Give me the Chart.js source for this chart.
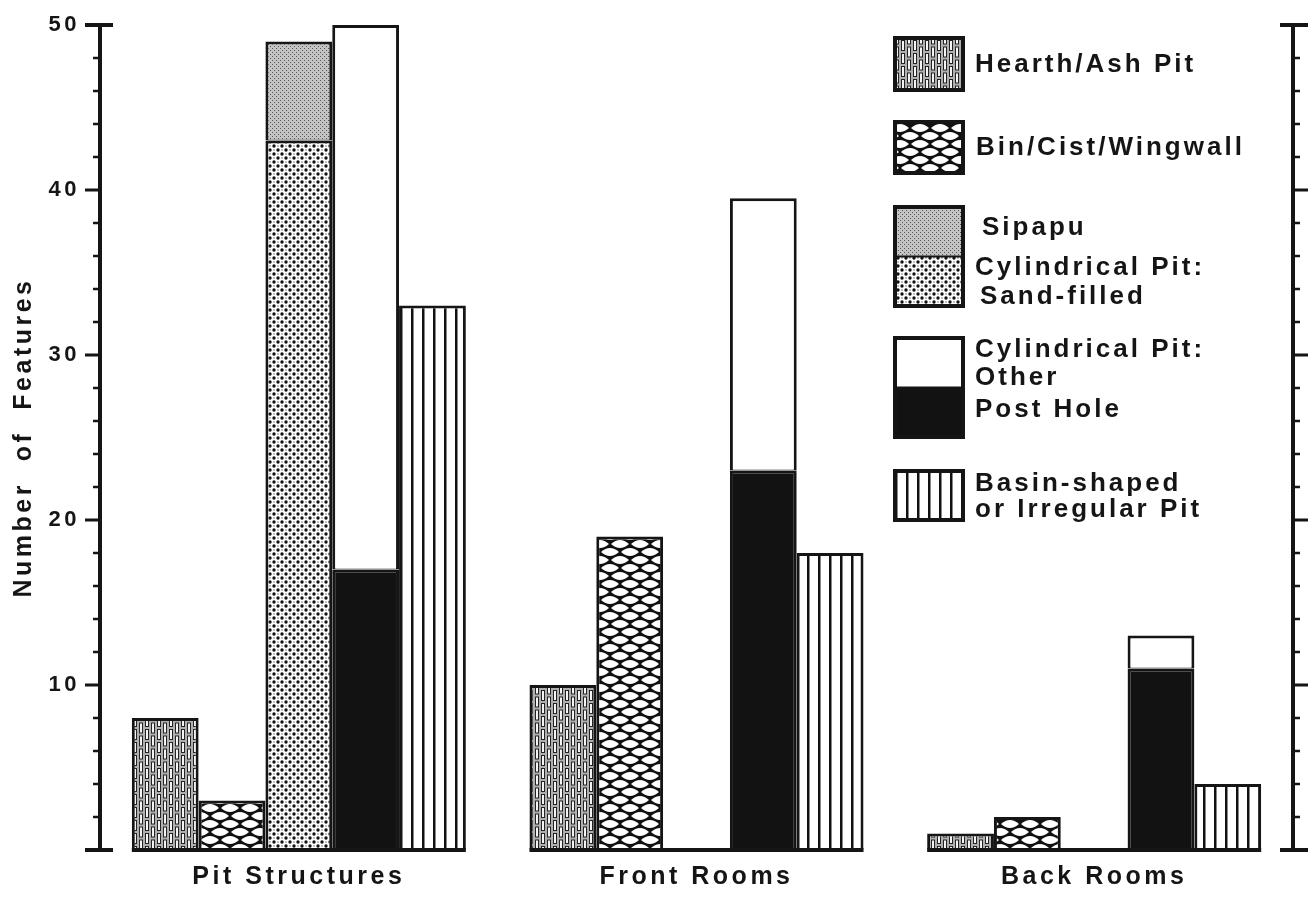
<!DOCTYPE html>
<html>
<head>
<meta charset="utf-8">
<script src="https://cdn.jsdelivr.net/npm/chart.js@4.4.1/dist/chart.umd.min.js"></script>
<style>
  html, body { margin: 0; padding: 0; background: #fff; }
  #wrap { width: 1310px; height: 897px; }
</style>
</head>
<body>
<div id="wrap"><canvas id="chart" width="1310" height="897"></canvas></div>
<script>
const categories = ['Pit Structures', 'Front Rooms', 'Back Rooms'];
const hearth = [8, 10, 1];
const bin = [3, 19, 2];
const sandFilled = [43, 0, 0];
const sipapu = [6, 0, 0];
const postHole = [17, 23, 11];
const cylOther = [33, 16.5, 2];
const basin = [33, 18, 4];
const yTicks = [10, 20, 30, 40, 50];

const FONT = '"Liberation Sans", Arial, Helvetica, sans-serif';
const INK = '#151515';

const canvas = document.getElementById('chart');
const mainCtx = canvas.getContext('2d');

function makePattern(w, h, draw) {
  const c = document.createElement('canvas');
  c.width = w; c.height = h;
  const g = c.getContext('2d');
  draw(g, w, h);
  return mainCtx.createPattern(c, 'repeat');
}

// brick-like slots
const hearthFill = makePattern(12, 26, (g) => {
  g.fillStyle = '#b0b0b0'; g.fillRect(0, 0, 12, 26);
  g.fillStyle = '#f4f4f4'; g.strokeStyle = '#222'; g.lineWidth = 1;
  [[1.5, 1.5], [1.5, 14.5], [7.5, -5], [7.5, 8], [7.5, 21]].forEach(([x, y]) => {
    g.fillRect(x, y, 3, 10); g.strokeRect(x, y, 3, 10);
  });
});
// net of flat white eyes on black
const binFill = makePattern(40, 16, (g) => {
  g.fillStyle = '#111'; g.fillRect(0, 0, 40, 16);
  g.fillStyle = '#fff';
  const eyes = [[0, 0], [20, 0], [40, 0], [0, 16], [20, 16], [40, 16], [10, 8], [30, 8]];
  eyes.forEach(([cx, cy]) => {
    g.beginPath();
    g.moveTo(cx - 9, cy);
    g.quadraticCurveTo(cx, cy - 8, cx + 9, cy);
    g.quadraticCurveTo(cx, cy + 8, cx - 9, cy);
    g.fill();
  });
});
const sipapuFill = makePattern(4, 4, (g) => {
  g.fillStyle = '#c4c4c4'; g.fillRect(0, 0, 4, 4);
  g.fillStyle = '#555'; g.fillRect(0, 0, 1, 1); g.fillRect(2, 2, 1, 1);
});
const sandFill = makePattern(8, 8, (g) => {
  g.fillStyle = '#fff'; g.fillRect(0, 0, 8, 8);
  g.fillStyle = '#111';
  [[2, 2], [6, 6]].forEach(([x, y]) => { g.beginPath(); g.arc(x, y, 1.7, 0, Math.PI * 2); g.fill(); });
  g.fillStyle = '#aaa';
  [[6, 2], [2, 6]].forEach(([x, y]) => { g.beginPath(); g.arc(x, y, 1, 0, Math.PI * 2); g.fill(); });
});
const basinFill = makePattern(11, 10, (g) => {
  g.fillStyle = '#fff'; g.fillRect(0, 0, 11, 10);
  g.fillStyle = '#111'; g.fillRect(4, 0, 2.5, 10);
});
const otherFill = '#ffffff';
const postFill = '#121212';

const barBorder = { top: 3, bottom: 1, left: 3, right: 3 };
function ds(label, data, fill, stack) {
  return {
    label, data, stack,
    backgroundColor: fill,
    borderColor: INK,
    borderWidth: barBorder,
    borderSkipped: false,
    barPercentage: 1,
    categoryPercentage: 0.84
  };
}

// axis ticks, caps and per-group baselines
const axisMarks = {
  id: 'axisMarks',
  beforeDraw(chart) {
    chart.ctx.letterSpacing = '3.5px';
  },
  afterDatasetsDraw(chart) {
    const ctx = chart.ctx;
    const y = chart.scales.y;
    ctx.save();
    ctx.strokeStyle = INK;
    ctx.lineCap = 'butt';
    const x0 = chart.chartArea.left, x1 = chart.chartArea.right;
    for (let v = 0; v <= 50; v += 2) {
      const py = y.getPixelForValue(v);
      const major = v % 10 === 0;
      const cap = v === 0 || v === 50;
      ctx.lineWidth = cap ? 4 : (major ? 3 : 2.5);
      const len = major ? 15 : 7;
      ctx.beginPath();
      ctx.moveTo(x0 - len, py); ctx.lineTo(cap ? x0 + 13 : x0, py);
      ctx.moveTo(cap ? x1 - 13 : x1, py); ctx.lineTo(x1 + len, py);
      ctx.stroke();
    }
    // baselines under each group
    const first = chart.getDatasetMeta(0), last = chart.getDatasetMeta(chart.data.datasets.length - 1);
    const by = y.getPixelForValue(0);
    ctx.lineWidth = 4;
    categories.forEach((c, i) => {
      const a = first.data[i], b = last.data[i];
      ctx.beginPath();
      ctx.moveTo(a.x - a.width / 2, by);
      ctx.lineTo(b.x + b.width / 2, by);
      ctx.stroke();
    });
    ctx.restore();
  }
};

// legend drawn in the right part of the plot
const legendBox = {
  id: 'legendBox',
  afterDraw(chart) {
    const ctx = chart.ctx;
    ctx.save();
    ctx.letterSpacing = '3px';
    ctx.font = 'bold 26px ' + FONT;
    ctx.fillStyle = INK;
    ctx.textBaseline = 'middle';
    const bx = 895, bw = 68;
    const boxes = [
      { y: 38, h: 52, parts: [hearthFill] },
      { y: 122, h: 51, parts: [binFill] },
      { y: 207, h: 99, parts: [sipapuFill, sandFill] },
      { y: 338, h: 99, parts: [otherFill, postFill] },
      { y: 471, h: 49, parts: [basinFill] }
    ];
    boxes.forEach(b => {
      const ph = b.h / b.parts.length;
      b.parts.forEach((p, k) => {
        ctx.fillStyle = p;
        ctx.fillRect(bx, b.y + k * ph, bw, ph);
      });
      ctx.strokeStyle = INK;
      ctx.lineWidth = 4;
      ctx.strokeRect(bx, b.y, bw, b.h);
      if (b.parts.length > 1) {
        ctx.lineWidth = 2;
        ctx.beginPath();
        ctx.moveTo(bx, b.y + ph); ctx.lineTo(bx + bw, b.y + ph);
        ctx.stroke();
      }
    });
    ctx.fillStyle = INK;
    const texts = [
      ['Hearth/Ash Pit', 975, 65],
      ['Bin/Cist/Wingwall', 976, 148],
      ['Sipapu', 982, 228],
      ['Cylindrical Pit:', 975, 268],
      ['Sand-filled', 980, 297],
      ['Cylindrical Pit:', 975, 350],
      ['Other', 975, 378],
      ['Post Hole', 975, 410],
      ['Basin-shaped', 975, 484],
      ['or Irregular Pit', 975, 510]
    ];
    texts.forEach(([t, x, y]) => ctx.fillText(t, x, y));
    ctx.restore();
  }
};

function noEdgePadding(s) {
  s.paddingTop = 0;
  s.paddingBottom = 0;
}

new Chart(canvas, {
  type: 'bar',
  data: {
    labels: categories,
    datasets: [
      ds('Hearth/Ash Pit', hearth, hearthFill, 'a'),
      ds('Bin/Cist/Wingwall', bin, binFill, 'b'),
      ds('Cylindrical Pit: Sand-filled', sandFilled, sandFill, 'c'),
      ds('Sipapu', sipapu, sipapuFill, 'c'),
      ds('Post Hole', postHole, postFill, 'd'),
      ds('Cylindrical Pit: Other', cylOther, otherFill, 'd'),
      ds('Basin-shaped or Irregular Pit', basin, basinFill, 'e')
    ]
  },
  options: {
    responsive: false,
    devicePixelRatio: 1,
    animation: false,
    layout: { padding: { top: 25, left: 0, right: 0, bottom: 0 } },
    plugins: {
      legend: { display: false },
      tooltip: { enabled: false }
    },
    scales: {
      x: {
        stacked: true,
        grid: { display: false, drawTicks: false },
        border: { display: false },
        ticks: {
          color: INK,
          padding: 12,
          font: { family: FONT, size: 25, weight: 'bold' }
        },
        afterFit: s => { s.height = 47; s.paddingLeft = 0; s.paddingRight = 0; }
      },
      y: {
        stacked: true,
        position: 'left',
        min: 0,
        max: 50,
        grid: { drawOnChartArea: false, drawTicks: false },
        border: { display: true, width: 4, color: INK },
        ticks: {
          stepSize: 2,
          autoSkip: false,
          color: INK,
          padding: 20,
          font: { family: FONT, size: 22, weight: 'bold' },
          callback: v => (yTicks.includes(v) ? v : '')
        },
        title: {
          display: true,
          text: 'Number  of  Features',
          color: INK,
          padding: { top: 9, bottom: 0 },
          font: { family: FONT, size: 25, weight: 'bold' }
        },
        afterFit: s => { s.width = 100; noEdgePadding(s); }
      },
      y2: {
        position: 'right',
        min: 0,
        max: 50,
        grid: { drawOnChartArea: false, drawTicks: false },
        border: { display: true, width: 4, color: INK },
        ticks: { display: false },
        afterFit: s => { s.width = 17; noEdgePadding(s); }
      }
    }
  },
  plugins: [axisMarks, legendBox]
});
</script>
</body>
</html>
